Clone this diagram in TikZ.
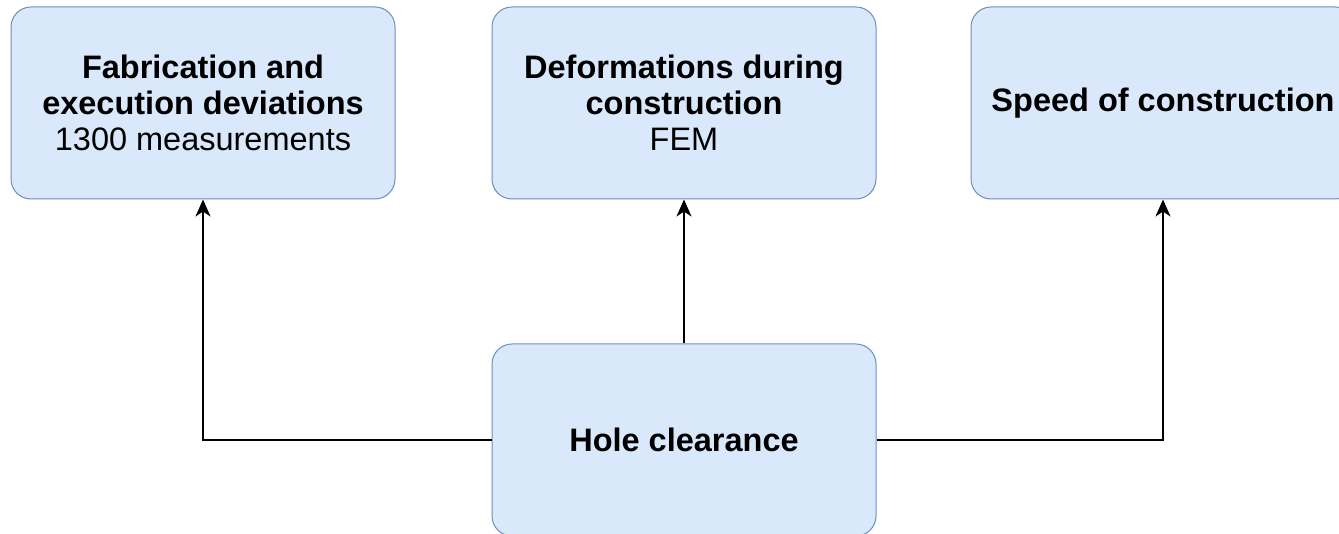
\documentclass[tikz,border=0pt]{standalone}
\usepackage{fontspec}
\setmainfont{Liberation Sans}
\usetikzlibrary{arrows.meta, positioning}
\definecolor{boxfill}{HTML}{DAE8FC}
\definecolor{boxline}{HTML}{6C8EBF}
\tikzstyle{box} = [rectangle, rounded corners=20pt, minimum width=384pt, minimum height=192pt, align=center, draw=boxline, line width=1pt, fill=boxfill, font=\fontsize{32.5}{36}\selectfont\bfseries]
\tikzstyle{arrow} = [line width=2pt, -{Stealth[length=17pt,width=15pt,inset=5pt]}]

\begin{document}
\begin{tikzpicture}
      \useasboundingbox (0,0) rectangle (1339pt,534pt);
      \clip (0,0) rectangle (1339pt,534pt);

      \node (hole) [box] at (684pt,94pt) {Hole clearance};
      \node (deform) [box, above=144pt of hole] {Deformations during\\ construction\\ \mdseries FEM};

      \node (fabric) [box, left=96pt of deform] {Fabrication and\\ execution deviations\\ \mdseries 1300 measurements};
      \node (speed) [box, right=94pt of deform] {Speed of construction};

      \draw [arrow] (hole.west) -| (fabric.south);
      \draw [arrow] (hole) -- (deform);
      \draw [arrow] (hole.east) -| (speed.south);
    \end{tikzpicture}
\end{document}
